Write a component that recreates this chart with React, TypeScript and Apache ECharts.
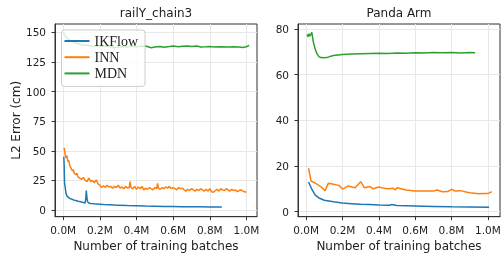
import React, { useEffect, useRef } from "react";
import * as echarts from "echarts";

const seriesNames = ["IKFlow", "INN", "MDN"];
const colors = ["#1f77b4", "#ff7f0e", "#2ca02c"];
const titles = ["railY_chain3", "Panda Arm"];
const xTicks = [0, 0.2, 0.4, 0.6, 0.8, 1.0];
const railYTicks = [0, 25, 50, 75, 100, 125, 150];
const pandaYTicks = [0, 20, 40, 60, 80];

// railY_chain3 (x in millions of batches, y in cm)
const railIKFlow: number[][] = [
  [0.003, 45], [0.005, 38], [0.007, 23], [0.01, 20], [0.015, 14], [0.02, 12], [0.03, 10.5], [0.04, 9.5],
  [0.05, 9], [0.06, 8.3], [0.07, 8], [0.08, 7.5], [0.09, 7.2], [0.1, 6.8], [0.11, 6.3], [0.12, 6],
  [0.123, 10], [0.126, 16.5], [0.129, 11], [0.133, 7], [0.14, 6], [0.15, 5.6], [0.17, 5.3], [0.2, 5],
  [0.22, 4.6], [0.25, 4.5], [0.28, 4.2], [0.3, 4.1], [0.35, 3.8], [0.4, 3.6], [0.45, 3.4], [0.5, 3.3],
  [0.55, 3.1], [0.6, 3.0], [0.65, 2.9], [0.7, 2.8], [0.75, 2.8], [0.8, 2.6], [0.866, 2.5],
];
const railINN: number[][] = [
  [0.005, 52.5], [0.01, 47], [0.015, 44], [0.02, 46], [0.025, 41], [0.03, 42], [0.035, 38], [0.04, 36],
  [0.05, 33], [0.055, 34], [0.06, 31], [0.07, 30], [0.075, 31], [0.08, 28], [0.09, 27], [0.1, 26],
  [0.11, 27.5], [0.12, 25], [0.13, 24], [0.14, 27], [0.15, 24], [0.16, 25], [0.17, 23], [0.18, 25.5],
  [0.19, 22], [0.2, 21], [0.21, 19], [0.22, 20.5], [0.23, 19], [0.24, 21], [0.25, 19.5], [0.26, 20],
  [0.27, 18.5], [0.28, 20], [0.29, 19], [0.3, 21], [0.31, 18.5], [0.32, 19.5], [0.33, 18], [0.34, 20],
  [0.35, 18.5], [0.36, 19], [0.365, 24], [0.37, 19], [0.38, 18], [0.39, 20], [0.4, 17.5], [0.41, 19.5],
  [0.42, 18], [0.43, 20], [0.44, 17], [0.45, 18.5], [0.46, 17.5], [0.47, 19], [0.48, 18], [0.49, 17],
  [0.5, 19], [0.51, 18], [0.515, 22.5], [0.52, 18.5], [0.53, 17.5], [0.54, 19], [0.55, 18], [0.56, 19.5],
  [0.57, 18.5], [0.58, 20], [0.59, 18], [0.6, 19], [0.61, 18], [0.62, 17], [0.63, 19], [0.64, 18],
  [0.65, 18.5], [0.66, 17], [0.67, 16], [0.68, 17.5], [0.69, 16.5], [0.7, 18], [0.71, 17], [0.72, 16],
  [0.73, 17.5], [0.74, 16.5], [0.75, 18], [0.76, 17], [0.77, 16], [0.78, 17.5], [0.79, 16], [0.8, 18],
  [0.81, 15.5], [0.82, 15], [0.83, 16.5], [0.84, 17.5], [0.85, 16], [0.86, 18], [0.87, 17], [0.88, 16.5],
  [0.89, 18], [0.9, 17], [0.91, 16], [0.92, 17.5], [0.93, 16.5], [0.94, 17], [0.95, 15.5], [0.96, 16.5],
  [0.97, 17], [0.98, 16], [0.99, 15.5], [1.0, 15],
];
const railMDN: number[][] = [
  [0.0, 150], [0.01, 147], [0.02, 145], [0.04, 143], [0.06, 141.5], [0.08, 140.5], [0.1, 139.5],
  [0.13, 139], [0.16, 138.5], [0.2, 138], [0.23, 138.5], [0.25, 138], [0.28, 137], [0.3, 137.5],
  [0.32, 138], [0.35, 137.5], [0.38, 138.5], [0.4, 137.5], [0.42, 138.3], [0.45, 138.5], [0.48, 137],
  [0.5, 137.5], [0.53, 138], [0.55, 137.3], [0.58, 138], [0.6, 138.5], [0.63, 137.8], [0.65, 138.2],
  [0.68, 138.5], [0.7, 138], [0.73, 138.4], [0.75, 137.6], [0.78, 137.8], [0.8, 138], [0.83, 137.5],
  [0.86, 137.8], [0.9, 137.5], [0.93, 137.8], [0.96, 137.6], [0.98, 137.2], [1.0, 137.8], [1.015, 139],
];

// Panda Arm
const pandaIKFlow: number[][] = [
  [0.013, 13], [0.03, 10], [0.05, 7.2], [0.07, 6], [0.1, 5], [0.15, 4.3], [0.2, 3.8], [0.25, 3.5],
  [0.3, 3.2], [0.35, 3.1], [0.4, 2.9], [0.46, 2.8], [0.47, 3.1], [0.5, 2.7], [0.6, 2.5], [0.7, 2.3],
  [0.8, 2.1], [0.9, 2.0], [1.007, 1.9],
];
const pandaINN: number[][] = [
  [0.013, 19], [0.027, 13.4], [0.05, 12.5], [0.08, 11], [0.104, 9.2], [0.122, 12.4], [0.15, 12],
  [0.18, 11.5], [0.2, 9.9], [0.23, 11.2], [0.27, 10.5], [0.3, 13.1], [0.32, 10.5], [0.35, 11],
  [0.37, 10], [0.4, 10.8], [0.43, 10.2], [0.45, 10], [0.48, 10.2], [0.49, 9.5], [0.5, 10.5],
  [0.55, 9.5], [0.6, 9], [0.65, 9], [0.7, 9], [0.72, 9.5], [0.75, 8.7], [0.78, 8.8], [0.8, 9.8],
  [0.82, 9], [0.85, 9.2], [0.88, 8.6], [0.9, 8.3], [0.95, 7.8], [0.98, 8], [1.0, 7.9], [1.022, 8.8],
];
const pandaMDN: number[][] = [
  [0.005, 77.5], [0.01, 76.5], [0.015, 77.8], [0.02, 76.8], [0.025, 77.5], [0.031, 78.4], [0.04, 74],
  [0.05, 71], [0.06, 69], [0.07, 67.8], [0.08, 67.4], [0.1, 67.3], [0.12, 67.6], [0.15, 68.3],
  [0.2, 68.8], [0.25, 69], [0.3, 69.1], [0.35, 69.2], [0.4, 69.3], [0.45, 69.2], [0.5, 69.4],
  [0.55, 69.3], [0.6, 69.5], [0.65, 69.4], [0.7, 69.6], [0.75, 69.5], [0.8, 69.6], [0.85, 69.4],
  [0.9, 69.6], [0.93, 69.5],
];

const FONT = "DejaVu Sans";
const TXT = "#222";

function xAxisCfg(gridIndex: number, max: number) {
  return {
    type: "value",
    gridIndex,
    min: -0.045,
    max,
    name: "Number of training batches",
    nameLocation: "middle",
    nameGap: 22,
    nameTextStyle: { fontFamily: FONT, fontSize: 12, color: TXT },
    axisLine: { show: true, onZero: false, lineStyle: { color: "#333", width: 1 } },
    axisTick: { show: true, length: 3.5, customValues: xTicks, lineStyle: { color: "#333" } },
    axisLabel: {
      customValues: xTicks,
      fontFamily: FONT,
      fontSize: 10.5,
      color: TXT,
      margin: 7.5,
      formatter: (v: number) => v.toFixed(1) + "M",
    },
    splitLine: { show: true, lineStyle: { color: "#e8e8e8", width: 1 } },
  };
}

function yAxisCfg(gridIndex: number, min: number, max: number, ticks: number[], name: string) {
  return {
    type: "value",
    gridIndex,
    min,
    max,
    name,
    nameLocation: "middle",
    nameGap: 33,
    nameTextStyle: { fontFamily: FONT, fontSize: 12, color: TXT },
    axisLine: { show: true, onZero: false, lineStyle: { color: "#333", width: 1 } },
    axisTick: { show: true, length: 3.5, customValues: ticks, lineStyle: { color: "#333" } },
    axisLabel: { customValues: ticks, fontFamily: FONT, fontSize: 10.5, color: TXT, margin: 9 },
    splitLine: { show: true, lineStyle: { color: "#e8e8e8", width: 1 } },
  };
}

function line(name: string, color: string, data: number[][], idx: number) {
  return {
    type: "line",
    name,
    xAxisIndex: idx,
    yAxisIndex: idx,
    data,
    showSymbol: false,
    symbol: "none",
    lineStyle: { color, width: 1.5 },
    itemStyle: { color },
    z: 3,
  };
}

export default function App() {
  const ref = useRef<HTMLDivElement>(null);
  useEffect(() => {
    if (!ref.current) return;
    const chart = echarts.init(ref.current, undefined, { renderer: "svg" });
    chart.setOption({
      animation: false,
      grid: [
        { left: 55, top: 24, width: 202, height: 192.7, outerBoundsMode: "none", containLabel: false, show: true, borderColor: "#333", borderWidth: 1, backgroundColor: "transparent" },
        { left: 298, top: 24, width: 202, height: 192.7, outerBoundsMode: "none", containLabel: false, show: true, borderColor: "#333", borderWidth: 1, backgroundColor: "transparent" },
      ],
      xAxis: [xAxisCfg(0, 1.058), xAxisCfg(1, 1.067)],
      yAxis: [
        yAxisCfg(0, -5.6, 157, railYTicks, "L2 Error (cm)"),
        yAxisCfg(1, -2.2, 82.1, pandaYTicks, ""),
      ],
      legend: {
        data: seriesNames,
        orient: "vertical",
        left: 61.5,
        top: 30,
        z: 10,
        icon: "rect",
        itemWidth: 25,
        itemHeight: 2,
        itemGap: 2.2,
        padding: [4, 7, 6, 3],
        backgroundColor: "rgba(255,255,255,0.8)",
        borderColor: "#cccccc",
        borderWidth: 1,
        borderRadius: 3,
        textStyle: { fontFamily: "Liberation Serif", fontSize: 14, color: TXT, lineHeight: 14 },
      },
      graphic: [
        { type: "text", x: 156, y: 13, style: { text: titles[0], fontFamily: FONT, fontSize: 12, fill: TXT, align: "center", verticalAlign: "middle" } },
        { type: "text", x: 399, y: 13, style: { text: titles[1], fontFamily: FONT, fontSize: 12, fill: TXT, align: "center", verticalAlign: "middle" } },
      ],
      series: [
        line(seriesNames[0], colors[0], railIKFlow, 0),
        line(seriesNames[1], colors[1], railINN, 0),
        line(seriesNames[2], colors[2], railMDN, 0),
        line(seriesNames[0], colors[0], pandaIKFlow, 1),
        line(seriesNames[1], colors[1], pandaINN, 1),
        line(seriesNames[2], colors[2], pandaMDN, 1),
      ],
    });
    return () => chart.dispose();
  }, []);
  return <div ref={ref} style={{ width: 502, height: 255, position: "fixed", left: 0, top: 0 }} />;
}
